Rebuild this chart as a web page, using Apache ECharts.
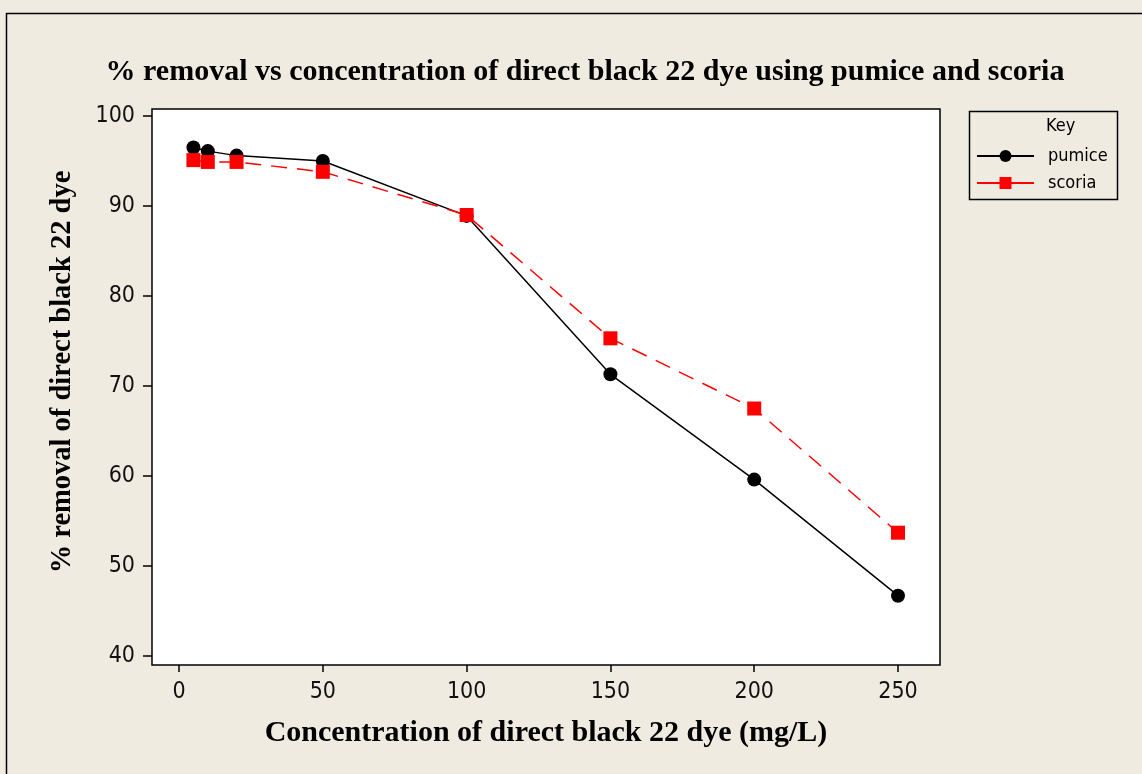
<!DOCTYPE html>
<html>
<head>
<meta charset="utf-8">
<script src="https://cdn.jsdelivr.net/npm/echarts@6/dist/echarts.min.js"></script>
<style>
  html, body { margin: 0; padding: 0; background: #efebe1; }
  #chart { width: 1142px; height: 774px; }
</style>
</head>
<body>
<div id="chart"></div>
<script>
// Dye concentration (mg/L)
const concentration = [5, 10, 20, 50, 100, 150, 200, 250];
// % removal for each adsorbent
const pumice = [96.5, 96.1, 95.6, 95.0, 88.9, 71.3, 59.6, 46.7];
const scoria = [95.1, 94.9, 94.9, 93.8, 89.0, 75.3, 67.5, 53.7];
// Tick values
const xTicks = [0, 50, 100, 150, 200, 250];
const yTicks = [40, 50, 60, 70, 80, 90, 100];

const tickFont = '"DejaVu Sans Condensed", "DejaVu Sans", sans-serif';
const serif = '"Liberation Serif", "Times New Roman", serif';

const chart = echarts.init(document.getElementById('chart'));
chart.setOption({
  backgroundColor: '#efebe1',
  animation: false,
  title: {
    text: '% removal vs concentration of direct black 22 dye using pumice and scoria',
    left: 580,
    top: 52,
    textAlign: 'center',
    textStyle: { fontFamily: serif, fontWeight: 'bold', fontSize: 30, color: '#000' }
  },
  grid: {
    left: 152, top: 109, right: 202, bottom: 109,
    show: true, backgroundColor: '#fff', borderColor: '#000', borderWidth: 1.5
  },
  legend: {
    orient: 'vertical',
    left: 976, top: 147, padding: 0,
    itemWidth: 57, itemHeight: 15, itemGap: 9,
    textStyle: { fontFamily: tickFont, fontSize: 18, color: '#000', padding: [0, 0, 0, 9] },
    data: [
      { name: 'pumice' },
      { name: 'scoria', lineStyle: { type: 'solid' } }
    ]
  },
  graphic: [
    { type: 'rect', left: 4, top: 11, shape: { width: 1160, height: 800 },
      style: { fill: 'none', stroke: '#000', lineWidth: 1.5 }, silent: true, z: -1 },
    { type: 'rect', left: 967, top: 109, shape: { width: 148, height: 88 },
      style: { fill: 'none', stroke: '#000', lineWidth: 1.5 }, silent: true },
    { type: 'text', left: 1046, top: 117,
      style: { text: 'Key', fontFamily: tickFont, fontSize: 18, fill: '#000' } }
  ],
  xAxis: {
    type: 'value', min: -9.4, max: 264.6,
    name: 'Concentration of direct black 22 dye (mg/L)',
    nameLocation: 'middle', nameGap: 53,
    nameTextStyle: { fontFamily: serif, fontWeight: 'bold', fontSize: 30, color: '#000' },
    axisLine: { show: false, onZero: false },
    axisTick: { show: true, length: 7, customValues: xTicks, lineStyle: { color: '#000', width: 1.5 } },
    axisLabel: { customValues: xTicks, fontFamily: tickFont, fontSize: 23, color: '#111', margin: 16 },
    splitLine: { show: false }
  },
  yAxis: {
    type: 'value', min: 39, max: 100.78,
    name: '% removal of direct black 22 dye',
    nameLocation: 'middle', nameGap: 75,
    nameTextStyle: { fontFamily: serif, fontWeight: 'bold', fontSize: 28.5, color: '#000', padding: [0, 0, 0, 30] },
    axisLine: { show: false, onZero: false },
    axisTick: { show: true, length: 9, customValues: yTicks, lineStyle: { color: '#000', width: 1.5 } },
    axisLabel: { customValues: yTicks, fontFamily: tickFont, fontSize: 23, color: '#111', margin: 17 },
    splitLine: { show: false }
  },
  series: [
    {
      name: 'pumice', type: 'line',
      data: concentration.map((c, i) => [c, pumice[i]]),
      symbol: 'circle', symbolSize: 14,
      lineStyle: { color: '#000', width: 1.5 },
      itemStyle: { color: '#000' }
    },
    {
      name: 'scoria', type: 'line',
      data: concentration.map((c, i) => [c, scoria[i]]),
      symbol: 'rect', symbolSize: 14,
      lineStyle: { color: '#ff0000', width: 1.5, type: [16, 10] },
      itemStyle: { color: '#ff0000' }
    }
  ]
});
</script>
</body>
</html>
